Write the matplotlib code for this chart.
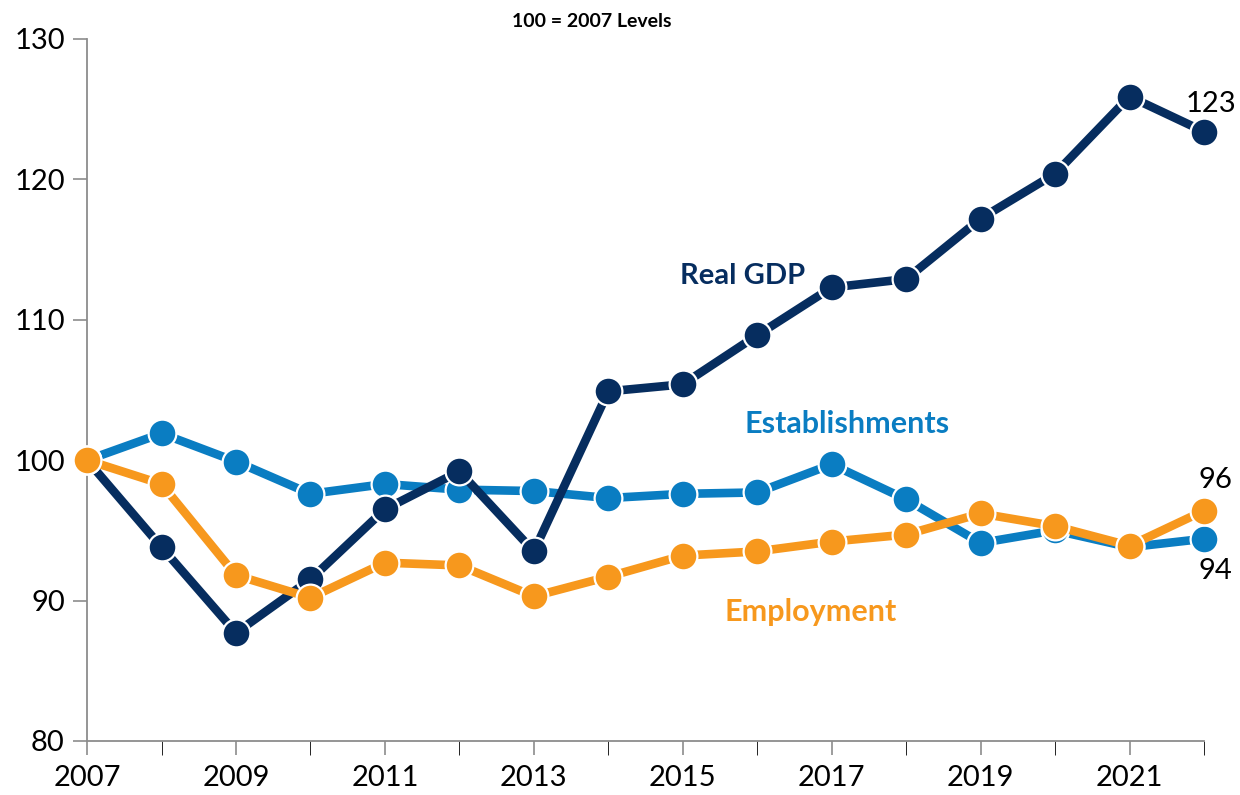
import matplotlib
matplotlib.use("Agg")
import matplotlib.pyplot as plt

years = list(range(2007, 2023))
real_gdp = [100, 93.8, 87.7, 91.5, 96.5, 99.2, 93.5, 104.9, 105.4, 108.9,
            112.3, 112.9, 117.2, 120.4, 125.9, 123.4]
establishments = [100, 101.9, 99.9, 97.6, 98.3, 97.9, 97.8, 97.3, 97.6, 97.7,
                  99.7, 97.2, 94.1, 95.0, 93.8, 94.4]
employment = [100, 98.3, 91.8, 90.2, 92.7, 92.5, 90.3, 91.7, 93.2, 93.5,
              94.2, 94.7, 96.2, 95.3, 93.9, 96.4]
label_years = list(range(2007, 2023, 2))
y_ticks = [80, 90, 100, 110, 120, 130]

c_gdp = "#062d5f"
c_est = "#0a7dc2"
c_emp = "#f7981d"

plt.rcParams["font.family"] = ["Lato", "DejaVu Sans"]

fig = plt.figure(figsize=(12.4, 7.95), dpi=100)
ax = fig.add_axes([0.0702, 0.068, 0.9008, 0.883])

common = dict(lw=6.2, marker="o", ms=20, mec="white", mew=1.6,
              solid_joinstyle="round", solid_capstyle="round", clip_on=False)
ax.plot(years, establishments, color=c_est, zorder=3, **common)
ax.plot(years, real_gdp, color=c_gdp, zorder=4, **common)
ax.plot(years, employment, color=c_emp, zorder=5, **common)

ax.set_xlim(2007, 2022)
ax.set_ylim(80, 130)
ax.set_yticks(y_ticks)
ax.set_xticks(years, minor=True)
ax.set_xticks(label_years)
ax.set_xticklabels([str(y) for y in label_years])

for s in ("top", "right"):
    ax.spines[s].set_visible(False)
for s in ("left", "bottom"):
    ax.spines[s].set_color("#8c8c8c")
    ax.spines[s].set_linewidth(1.3)
ax.tick_params(axis="both", colors="#8c8c8c", labelcolor="black",
               labelsize=21, width=1.2)
ax.tick_params(axis="x", which="both", length=10, direction="out", pad=7)
ax.tick_params(axis="y", length=10, direction="out", pad=6)

ax.text(0.452, 1.025, "100 = 2007 Levels", transform=ax.transAxes,
        ha="center", va="center", fontsize=14, fontweight="bold")

ax.text(2015.8, 113.1, "Real GDP", color=c_gdp, fontsize=21,
        fontweight="bold", ha="center", va="center")
ax.text(2017.21, 102.6, "Establishments", color=c_est, fontsize=22,
        fontweight="bold", ha="center", va="center")
ax.text(2016.72, 89.2, "Employment", color=c_emp, fontsize=22,
        fontweight="bold", ha="center", va="center")

ax.annotate(f"{real_gdp[-1]:.0f}", (years[-1], real_gdp[-1]),
            xytext=(5, 20), textcoords="offset points",
            ha="center", va="center", fontsize=21)
ax.annotate(f"{employment[-1]:.0f}", (years[-1], employment[-1]),
            xytext=(8, 22), textcoords="offset points",
            ha="center", va="center", fontsize=21)
ax.annotate(f"{establishments[-1]:.0f}", (years[-1], establishments[-1]),
            xytext=(8, -23), textcoords="offset points",
            ha="center", va="center", fontsize=21)

fig.savefig("out.png", dpi=100)
